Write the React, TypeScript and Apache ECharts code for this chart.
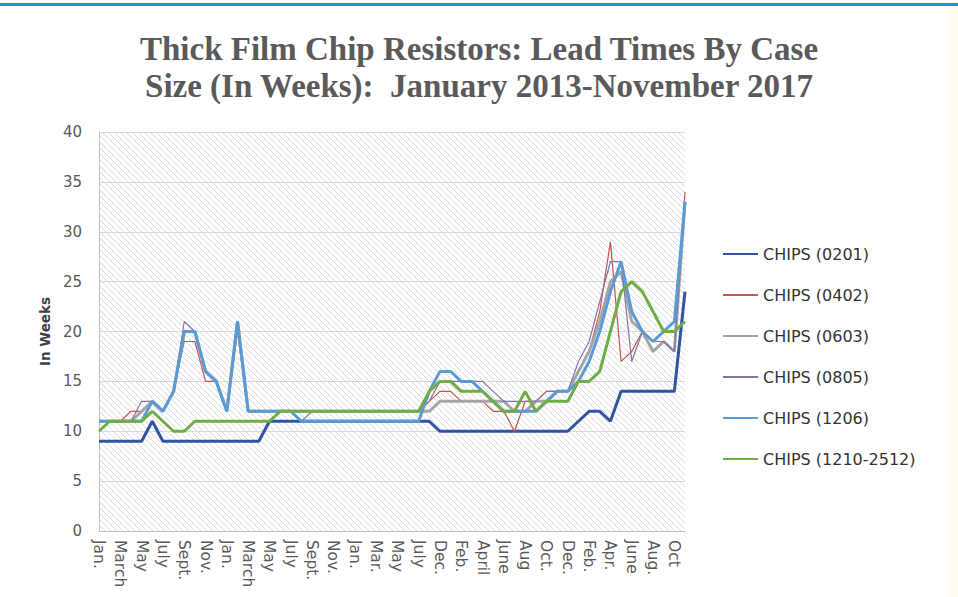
import { useEffect, useRef } from 'react';
import * as echarts from 'echarts';

// Jan 2013 – Nov 2017 (gap between July 2015 and Dec 2015 in the source)
const categories = [
  'Jan.', 'Feb.', 'March', 'April', 'May', 'June', 'July', 'Aug.', 'Sept.', 'Oct.', 'Nov.', 'Dec.',
  'Jan.', 'Feb.', 'March', 'April', 'May', 'June', 'July', 'Aug.', 'Sept.', 'Oct.', 'Nov.', 'Dec.',
  'Jan.', 'Feb.', 'Mar.', 'Apr.', 'May', 'June', 'July', 'Aug.',
  'Dec.', 'Jan.', 'Feb.', 'Mar.', 'April', 'May', 'June', 'July', 'Aug', 'Sept.', 'Oct.', 'Nov.', 'Dec.',
  'Jan.', 'Feb.', 'Mar.', 'Apr.', 'May', 'June', 'July', 'Aug.', 'Sept.', 'Oct', 'Nov.',
];

const chips0201 = [
  9, 9, 9, 9, 9, 11, 9, 9, 9, 9, 9, 9,
  9, 9, 9, 9, 11, 11, 11, 11, 11, 11, 11, 11,
  11, 11, 11, 11, 11, 11, 11, 11,
  10, 10, 10, 10, 10, 10, 10, 10, 10, 10, 10, 10, 10,
  11, 12, 12, 11, 14, 14, 14, 14, 14, 14, 24,
];
const chips0402 = [
  11, 11, 11, 12, 12, 13, 12, 14, 19, 19, 15, 15,
  12, 20, 12, 12, 12, 12, 12, 12, 12, 12, 12, 12,
  12, 12, 12, 12, 12, 12, 12, 13,
  14, 14, 13, 13, 13, 12, 12, 10, 13, 13, 14, 14, 14,
  16, 18, 22, 29, 17, 18, 20, 19, 19, 18, 34,
];
const chips0603 = [
  11, 11, 11, 11, 12, 13, 12, 14, 20, 20, 16, 15,
  12, 21, 12, 12, 12, 12, 12, 12, 12, 12, 12, 12,
  12, 12, 12, 12, 12, 12, 12, 12,
  13, 13, 13, 13, 13, 13, 13, 12, 12, 13, 13, 14, 14,
  16, 18, 21, 25, 26, 21, 20, 18, 19, 18, 33,
];
const chips0805 = [
  11, 11, 11, 11, 13, 13, 12, 14, 21, 20, 16, 15,
  12, 21, 12, 12, 12, 12, 12, 11, 12, 12, 12, 12,
  12, 12, 12, 12, 12, 12, 12, 13,
  15, 15, 15, 15, 15, 14, 13, 13, 13, 13, 14, 14, 14,
  17, 19, 23, 27, 27, 17, 20, 19, 19, 18, 33,
];
const chips1206 = [
  11, 11, 11, 11, 11, 13, 12, 14, 20, 20, 16, 15,
  12, 21, 12, 12, 12, 12, 12, 11, 11, 11, 11, 11,
  11, 11, 11, 11, 11, 11, 11, 14,
  16, 16, 15, 15, 14, 13, 12, 12, 12, 12, 13, 14, 14,
  15, 17, 20, 24, 27, 22, 20, 19, 20, 21, 33,
];
const chips1210 = [
  10, 11, 11, 11, 11, 12, 11, 10, 10, 11, 11, 11,
  11, 11, 11, 11, 11, 12, 12, 12, 12, 12, 12, 12,
  12, 12, 12, 12, 12, 12, 12, 14,
  15, 15, 14, 14, 14, 13, 12, 12, 14, 12, 13, 13, 13,
  15, 15, 16, 20, 24, 25, 24, 22, 20, 20, 21,
];

const seriesNames = [
  'CHIPS (0201)', 'CHIPS (0402)', 'CHIPS (0603)', 'CHIPS (0805)', 'CHIPS (1206)', 'CHIPS (1210-2512)',
];
const seriesData = [chips0201, chips0402, chips0603, chips0805, chips1206, chips1210];
const seriesColors = ['#2F55A2', '#C8534F', '#A5A5A5', '#8672A8', '#5B9BD5', '#70AD47'];
const seriesWidths = [3, 1.2, 3, 1.2, 3, 3];

const yTicks = { min: 0, max: 40, interval: 5 };

export default function App() {
  const ref = useRef<HTMLDivElement>(null);

  useEffect(() => {
    document.body.style.margin = '0';
    const el = ref.current;
    if (!el) return;
    const chart = echarts.init(el, null, { renderer: 'svg' });

    const s = 6;
    const c = document.createElement('canvas');
    c.width = s;
    c.height = s;
    const ctx = c.getContext('2d');
    if (ctx) {
      ctx.fillStyle = '#ffffff';
      ctx.fillRect(0, 0, s, s);
      ctx.strokeStyle = '#d9d9d9';
      ctx.lineWidth = 1;
      for (const k of [-s, 0, s]) {
        ctx.beginPath();
        ctx.moveTo(0, k);
        ctx.lineTo(s, k + s);
        ctx.stroke();
      }
    }
    const hatch: any = { image: c.toDataURL(), repeat: 'repeat', imageWidth: s, imageHeight: s };

    const font = 'DejaVu Sans';

    chart.setOption({
      animation: false,
      backgroundColor: '#ffffff',
      title: {
        text: 'Thick Film Chip Resistors: Lead Times By Case\nSize (In Weeks):  January 2013-November 2017',
        left: 'center',
        top: 25,
        textStyle: {
          fontFamily: 'Liberation Serif',
          fontWeight: 'bold',
          fontSize: 33,
          lineHeight: 37,
          color: '#5a5a5a',
        },
      },
      graphic: [
        { type: 'rect', shape: { x: 0, y: 3, width: 958, height: 3 }, style: { fill: '#1E8FE1' } },
        { type: 'rect', shape: { x: 949, y: 6, width: 9, height: 591 }, style: { fill: '#FFFBF0' } },
      ],
      legend: {
        orient: 'vertical',
        left: 722,
        top: 246,
        itemWidth: 35,
        itemHeight: 16,
        itemGap: 25,
        padding: 0,
        data: seriesNames,
        itemStyle: { opacity: 0, borderWidth: 0 },
        textStyle: { fontFamily: font, fontSize: 16, color: '#333333' },
      },
      grid: {
        left: 99,
        top: 132,
        width: 586,
        height: 399,
        show: true,
        backgroundColor: hatch,
        borderWidth: 0,
      },
      xAxis: {
        type: 'category',
        data: categories,
        boundaryGap: false,
        axisLine: { show: true, lineStyle: { color: '#bfbfbf', width: 1 } },
        axisTick: { show: false },
        axisLabel: {
          interval: 1,
          rotate: -90,
          margin: 9,
          color: '#595959',
          fontSize: 15.5,
          fontFamily: font,
        },
        splitLine: { show: false },
      },
      yAxis: {
        type: 'value',
        min: yTicks.min,
        max: yTicks.max,
        interval: yTicks.interval,
        name: 'In Weeks',
        nameLocation: 'middle',
        nameGap: 46,
        nameTextStyle: { fontFamily: font, fontWeight: 'bold', fontSize: 13.5, color: '#404040' },
        axisLine: { show: true, lineStyle: { color: '#bfbfbf', width: 1 } },
        axisTick: { show: false },
        axisLabel: { color: '#595959', fontSize: 15, margin: 17, fontFamily: font },
        splitLine: { show: true, lineStyle: { color: '#d9d9d9', width: 1 } },
      },
      series: seriesNames.map((name, i) => ({
        name,
        type: 'line',
        data: seriesData[i],
        symbol: 'none',
        color: seriesColors[i],
        lineStyle: { color: seriesColors[i], width: seriesWidths[i] },
        z: 2 + i,
      })),
    });

    return () => {
      chart.dispose();
    };
  }, []);

  return <div ref={ref} style={{ width: 958, height: 597 }} />;
}
